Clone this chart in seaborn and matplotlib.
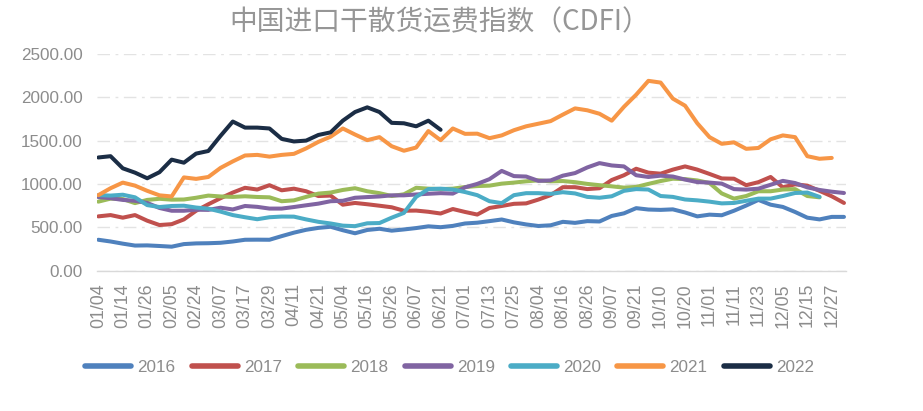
import numpy as np
import pandas as pd
import matplotlib
matplotlib.use("Agg")
import matplotlib.pyplot as plt
import seaborn as sns
from matplotlib.lines import Line2D
from matplotlib.ticker import FixedLocator

nan = np.nan

# ---- data (one value every 4 trading days) ----
years = ["2016", "2017", "2018", "2019", "2020", "2021", "2022"]
step = 4

v2016 = [355, 335, 310, 288, 290, 283, 275, 305, 313, 315,
         320, 335, 355, 356, 355, 397, 437, 470, 492, 505,
         465, 430, 468, 482, 460, 474, 490, 510, 500, 515,
         543, 552, 570, 589, 556, 532, 514, 522, 562, 550,
         570, 566, 630, 660, 720, 704, 700, 706, 670, 625,
         645, 638, 690, 750, 815, 760, 734, 676, 610, 590,
         619, 619]
v2017 = [625, 640, 610, 640, 575, 525, 535, 590, 690, 765,
         835, 900, 955, 935, 985, 926, 945, 915, 860, 865,
         760, 780, 765, 748, 730, 690, 692, 678, 658, 710,
         676, 646, 722, 745, 770, 775, 819, 870, 962, 962,
         940, 950, 1045, 1100, 1175, 1130, 1118, 1165, 1202, 1165,
         1115, 1063, 1060, 985, 1020, 1080, 960, 995, 980, 920,
         857, 780]
v2018 = [795, 830, 825, 778, 815, 828, 818, 820, 840, 865,
         855, 850, 857, 849, 845, 800, 810, 850, 888, 900,
         930, 950, 915, 893, 860, 880, 955, 945, 940, 945,
         964, 975, 980, 1003, 1015, 1030, 1041, 1030, 1033, 1020,
         1000, 985, 972, 957, 965, 1000, 1033, 1060, 1055, 1040,
         1010, 890, 830, 860, 915, 915, 935, 940, 860, 845,
         nan, nan]
v2019 = [848, 835, 815, 805, 780, 722, 690, 690, 702, 700,
         725, 705, 745, 735, 715, 715, 733, 753, 772, 800,
         805, 840, 848, 855, 868, 868, 878, 886, 893, 888,
         960, 1000, 1055, 1150, 1090, 1085, 1035, 1040, 1095, 1125,
         1190, 1240, 1213, 1202, 1100, 1080, 1095, 1085, 1050, 1021,
         1015, 1003, 940, 934, 945, 990, 1035, 1010, 960, 930,
         910, 895]
v2020 = [870, 865, 875, 845, 755, 733, 745, 748, 727, 714,
         680, 640, 615, 592, 615, 623, 622, 590, 562, 543,
         518, 512, 545, 548, 610, 665, 850, 940, 945, 935,
         906, 870, 800, 778, 870, 893, 893, 885, 904, 890,
         850, 840, 857, 920, 940, 935, 860, 850, 820, 810,
         795, 775, 780, 805, 830, 830, 860, 895, 900, 850,
         nan, nan]
v2021 = [870, 950, 1015, 980, 920, 868, 855, 1075, 1058, 1080,
         1185, 1260, 1328, 1335, 1315, 1335, 1347, 1410, 1485, 1545,
         1640, 1570, 1505, 1540, 1435, 1383, 1420, 1610, 1505, 1640,
         1578, 1580, 1528, 1560, 1620, 1665, 1695, 1725, 1800, 1872,
         1850, 1810, 1730, 1890, 2030, 2190, 2170, 1985, 1903, 1700,
         1540, 1463, 1480, 1405, 1415, 1515, 1560, 1540, 1320, 1290,
         1300, nan]
v2022 = [1305, 1320, 1180, 1130, 1065, 1135, 1280, 1245, 1350, 1380,
         1555, 1720, 1650, 1650, 1640, 1520, 1490, 1500, 1565, 1595,
         1730, 1830, 1884, 1830, 1705, 1700, 1665, 1730, 1625]

tick_labels = ["01/04", "01/14", "01/26", "02/05", "02/24", "03/07", "03/17",
               "03/29", "04/11", "04/21", "05/04", "05/16", "05/26", "06/07",
               "06/21", "07/01", "07/13", "07/25", "08/04", "08/16", "08/26",
               "09/07", "09/21", "10/10", "10/20", "11/01", "11/11", "11/23",
               "12/05", "12/15", "12/27"]
label_every = 8
n_days = 245

colors = ["#4F81BD", "#C0504D", "#9BBB59", "#8064A2", "#4BACC6", "#F79646", "#1B2D45"]
series = [v2016, v2017, v2018, v2019, v2020, v2021, v2022]

rows = []
for y, vals in zip(years, series):
    for k, v in enumerate(vals):
        if not np.isnan(v):
            rows.append((k * step, v, y))
df = pd.DataFrame(rows, columns=["day", "value", "year"])

# ---- figure ----
sns.set_style("white")
plt.rcParams["font.family"] = ["Liberation Sans", "Noto Sans CJK SC", "DejaVu Sans"]

W, H = 923, 411
fig = plt.figure(figsize=(W / 100, H / 100), dpi=100)
x0, x1, ytop, ybot = 96.8, 845.5, 54.0, 270.5
ax = fig.add_axes([x0 / W, 1 - ybot / H, (x1 - x0) / W, (ybot - ytop) / H])

sns.lineplot(data=df, x="day", y="value", hue="year", hue_order=years,
             palette=colors, linewidth=2.9, ax=ax, legend=False,
             estimator=None, sort=True)
for ln in ax.lines:
    ln.set_solid_capstyle("round")
    ln.set_solid_joinstyle("round")

ax.set_xlim(-0.5, n_days - 0.5)
ax.set_ylim(0, 2500)
ax.set_xlabel("")
ax.set_ylabel("")

grey = "#8C8C8C"
ax.set_yticks(np.arange(0, 2501, 500))
ax.set_yticklabels([f"{v:.2f}" for v in np.arange(0, 2501, 500)])
ax.tick_params(axis="y", length=0, pad=10, labelsize=12.3, labelcolor=grey)
ax.yaxis.grid(True, color="#E3E3E3", linestyle=(0, (9, 4, 2, 4)), linewidth=1.0)
ax.set_axisbelow(True)

ax.set_xticks([i * label_every for i in range(len(tick_labels))])
ax.set_xticklabels(tick_labels, rotation=90)
ax.tick_params(axis="x", which="major", length=0, pad=9, labelsize=12.8, labelcolor=grey)
ax.xaxis.set_minor_locator(FixedLocator(np.arange(-0.5, n_days, 3)))
ax.tick_params(axis="x", which="minor", length=5, width=1, color="#D9D9D9", direction="out")

for s in ["top", "left", "right"]:
    ax.spines[s].set_visible(False)
ax.spines["bottom"].set_color("#D9D9D9")
ax.spines["bottom"].set_linewidth(1.0)

fig.text(440 / W, 1 - 22 / H, "中国进口干散货运费指数（CDFI）", ha="center", va="center",
         fontsize=20, color="#969696", family=["Noto Sans CJK SC", "DejaVu Sans"])

handles = [Line2D([0], [0], color=c, lw=4, solid_capstyle="round") for c in colors]
fig.legend(handles, years, loc="center", bbox_to_anchor=(449.5 / W, 1 - 367 / H),
           ncol=7, frameon=False, fontsize=12.3, handlelength=2.7,
           handletextpad=0.35, columnspacing=0.95, labelcolor=grey)

fig.savefig("out.png", dpi=100)
